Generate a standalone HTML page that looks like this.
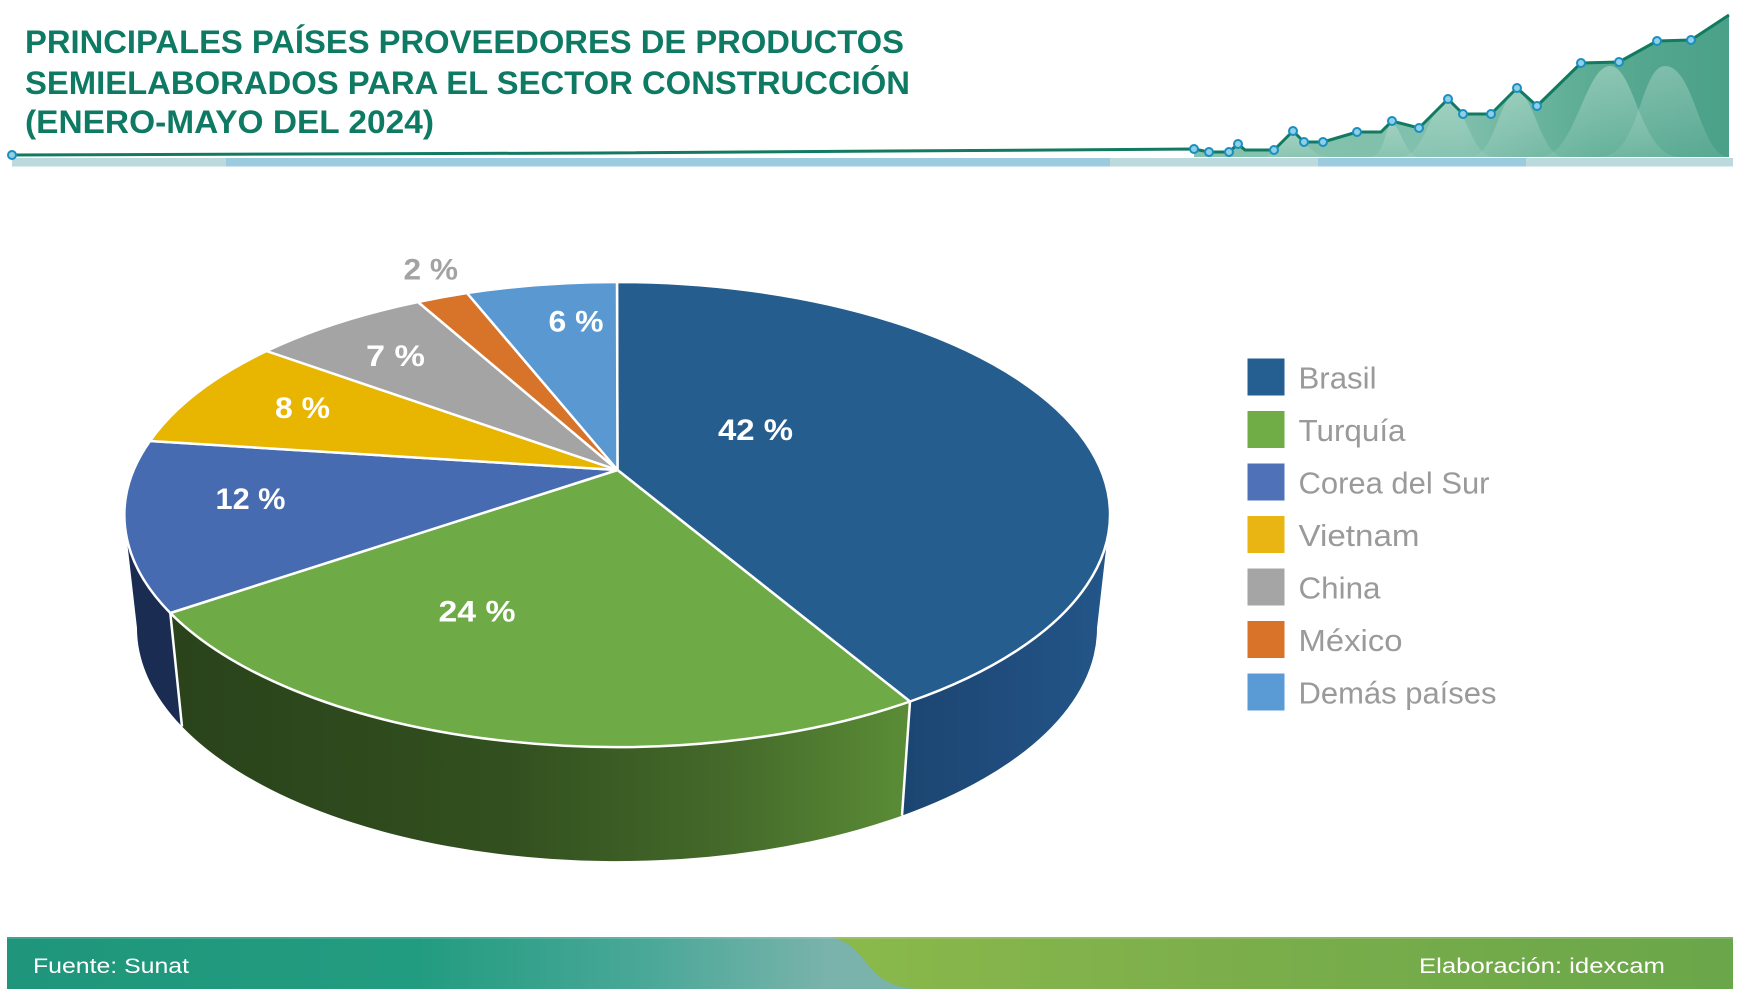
<!DOCTYPE html>
<html><head><meta charset="utf-8"><style>
html,body{margin:0;padding:0;background:#fff;}
svg{display:block;}
</style></head><body>
<svg width="1740" height="1000" viewBox="0 0 1740 1000" xmlns="http://www.w3.org/2000/svg">
<defs>
<linearGradient id="hdrFill" x1="1194" y1="0" x2="1729" y2="0" gradientUnits="userSpaceOnUse">
<stop offset="0" stop-color="#86c3ae"/><stop offset="0.5" stop-color="#7fbfab"/><stop offset="0.75" stop-color="#5aab92"/><stop offset="1" stop-color="#4aa088"/>
</linearGradient>
<linearGradient id="bell" x1="0" y1="0" x2="0" y2="1">
<stop offset="0" stop-color="#b8ddd0" stop-opacity="0.55"/><stop offset="1" stop-color="#b8ddd0" stop-opacity="0.15"/>
</linearGradient>
<linearGradient id="greenSide" x1="182" y1="0" x2="905" y2="0" gradientUnits="userSpaceOnUse">
<stop offset="0" stop-color="#2a431b"/><stop offset="0.45" stop-color="#32501f"/><stop offset="0.75" stop-color="#44692a"/><stop offset="1" stop-color="#5a8c36"/>
</linearGradient>
<linearGradient id="blueSide" x1="900" y1="0" x2="1110" y2="0" gradientUnits="userSpaceOnUse">
<stop offset="0" stop-color="#1c4571"/><stop offset="0.6" stop-color="#204e7f"/><stop offset="1" stop-color="#235689"/>
</linearGradient>
<linearGradient id="footL" x1="7" y1="0" x2="922" y2="0" gradientUnits="userSpaceOnUse">
<stop offset="0" stop-color="#1f967b"/><stop offset="0.45" stop-color="#229c80"/><stop offset="0.7" stop-color="#4aa898"/><stop offset="0.9" stop-color="#7ab3ab"/><stop offset="1" stop-color="#7ab3ab"/>
</linearGradient>
<linearGradient id="footR" x1="820" y1="0" x2="1733" y2="0" gradientUnits="userSpaceOnUse">
<stop offset="0" stop-color="#8bb94b"/><stop offset="0.4" stop-color="#7daf4b"/><stop offset="1" stop-color="#6aa64a"/>
</linearGradient>
</defs>

<rect x="0" y="0" width="1740" height="1000" fill="#fff"/>

<!-- Title -->
<g font-family="'Liberation Sans', sans-serif" font-weight="700" font-size="32" fill="#0f7a64">
<text x="25" y="53" textLength="879" lengthAdjust="spacingAndGlyphs">PRINCIPALES PAÍSES PROVEEDORES DE PRODUCTOS</text>
<text x="25" y="94" textLength="885" lengthAdjust="spacingAndGlyphs">SEMIELABORADOS PARA EL SECTOR CONSTRUCCIÓN</text>
<text x="25" y="133" textLength="409" lengthAdjust="spacingAndGlyphs">(ENERO-MAYO DEL 2024)</text>
</g>

<!-- Header band -->
<rect x="12" y="158" width="214" height="8.5" fill="#bcdadd"/>
<rect x="226" y="158" width="884" height="8.5" fill="#9ccbe0"/>
<rect x="1110" y="158" width="208" height="8.5" fill="#bcdadd"/>
<rect x="1318" y="158" width="208" height="8.5" fill="#9ccbe0"/>
<rect x="1526" y="158" width="207" height="8.5" fill="#bcdadd"/>

<!-- Header area chart -->
<polygon fill="url(#hdrFill)" points="1194,149 1209,152 1229,152 1238,144 1245,150 1274,150 1293,131 1304,142 1323,142 1357,132 1381,132 1392,121 1419,128 1448,99 1463,114 1491,114 1517,88 1537,106 1581,63 1619,62 1657,41 1691,40 1729,15 1729,157 1194,157"/>
<path d="M1400,157 C1425,157 1430,102 1448,102 C1466,102 1470,157 1495,157 Z" fill="url(#bell)"/>
<path d="M1470,157 C1495,157 1500,92 1517,92 C1534,92 1540,157 1565,157 Z" fill="url(#bell)"/>
<path d="M1540,157 C1575,157 1585,66 1610,66 C1635,66 1640,157 1680,157 Z" fill="url(#bell)"/>
<path d="M1600,157 C1640,157 1640,66 1665,66 C1695,66 1700,157 1729,157 Z" fill="url(#bell)" opacity="0.8"/>
<path d="M1260,157 C1280,157 1285,134 1293,134 C1301,134 1310,157 1330,157 Z" fill="url(#bell)"/>
<path d="M1370,157 C1385,157 1385,124 1392,124 C1400,124 1405,157 1420,157 Z" fill="url(#bell)"/>

<polyline fill="none" stroke="#117a60" stroke-width="3" stroke-linejoin="round" points="12,155 600,153 1194,149 1209,152 1229,152 1238,144 1245,150 1274,150 1293,131 1304,142 1323,142 1357,132 1381,132 1392,121 1419,128 1448,99 1463,114 1491,114 1517,88 1537,106 1581,63 1619,62 1657,41 1691,40 1729,15"/>
<g fill="#8fd0e6" stroke="#1a8fbf" stroke-width="2">
<circle cx="12" cy="155" r="4"/>
<circle cx="1194" cy="149" r="4"/><circle cx="1209" cy="152" r="4"/><circle cx="1229" cy="152" r="4"/><circle cx="1238" cy="144" r="4"/>
<circle cx="1274" cy="150" r="4"/><circle cx="1293" cy="131" r="4"/><circle cx="1304" cy="142" r="4"/><circle cx="1323" cy="142" r="4"/>
<circle cx="1357" cy="132" r="4"/><circle cx="1392" cy="121" r="4"/><circle cx="1419" cy="128" r="4"/><circle cx="1448" cy="99" r="4"/>
<circle cx="1463" cy="114" r="4"/><circle cx="1491" cy="114" r="4"/><circle cx="1517" cy="88" r="4"/><circle cx="1537" cy="106" r="4"/>
<circle cx="1581" cy="63" r="4"/><circle cx="1619" cy="62" r="4"/><circle cx="1657" cy="41" r="4"/><circle cx="1691" cy="40" r="4"/>
</g>

<!-- Pie sides -->
<path d="M1110,514.5 A493,232.5 0 0 1 910,701.5 L902,815.6 A480,233 0 0 0 1097,628 Z" fill="url(#blueSide)"/>
<path d="M910,701.5 A493,232.5 0 0 1 170.3,613 L182,726.5 A480,233 0 0 0 902,815.6 Z" fill="url(#greenSide)"/>
<path d="M170.3,613 A493,232.5 0 0 1 124,514.5 L137,628 A480,233 0 0 0 182,726.5 Z" fill="#1b2c52"/>
<g stroke="#fff" stroke-width="2.5" fill="none">
<line x1="910" y1="701.5" x2="902" y2="815.6"/>
<line x1="170.3" y1="613" x2="182" y2="726.5"/>
</g>

<!-- Pie top -->
<g stroke="#fff" stroke-width="2.5" stroke-linejoin="round">
<path d="M617.5,470 L617,282 A493,232.5 0 0 1 910,701.5 Z" fill="#265d8f"/>
<path d="M617.5,470 L910,701.5 A493,232.5 0 0 1 170.3,613 Z" fill="#6eab46"/>
<path d="M617.5,470 L170.3,613 A493,232.5 0 0 1 150,441 Z" fill="#466bb0"/>
<path d="M617.5,470 L150,441 A493,232.5 0 0 1 266.5,351 Z" fill="#e8b500"/>
<path d="M617.5,470 L266.5,351 A493,232.5 0 0 1 418,302 Z" fill="#a4a4a4"/>
<path d="M617.5,470 L418,302 A493,232.5 0 0 1 467,293 Z" fill="#d8732a"/>
<path d="M617.5,470 L467,293 A493,232.5 0 0 1 617,282 Z" fill="#5a98d2"/>
</g>

<!-- Pie labels -->
<g font-family="'Liberation Sans', sans-serif" font-weight="700" font-size="30" fill="#fff">
<text x="718" y="440" textLength="75" lengthAdjust="spacingAndGlyphs">42 %</text>
<text x="438.5" y="621.5" textLength="77" lengthAdjust="spacingAndGlyphs">24 %</text>
<text x="215.5" y="509" textLength="70" lengthAdjust="spacingAndGlyphs">12 %</text>
<text x="275" y="418" textLength="55" lengthAdjust="spacingAndGlyphs">8 %</text>
<text x="366" y="366" textLength="59" lengthAdjust="spacingAndGlyphs">7  %</text>
<text x="548.5" y="331.5" textLength="55" lengthAdjust="spacingAndGlyphs">6 %</text>
<text x="403.5" y="279.3" textLength="54.5" lengthAdjust="spacingAndGlyphs" fill="#a3a3a3">2 %</text>
</g>

<!-- Legend -->
<rect x="1247.5" y="358.5" width="37" height="37" fill="#255e91"/>
<rect x="1247.5" y="411" width="37" height="37" fill="#70ad47"/>
<rect x="1247.5" y="463.5" width="37" height="37" fill="#4e71b8"/>
<rect x="1247.5" y="516" width="37" height="37" fill="#e9b512"/>
<rect x="1247.5" y="568.5" width="37" height="37" fill="#a5a5a5"/>
<rect x="1247.5" y="621" width="37" height="37" fill="#d97329"/>
<rect x="1247.5" y="673.5" width="37" height="37" fill="#5b9bd5"/>
<g font-family="'Liberation Sans', sans-serif" font-size="31" fill="#9a9a9a">
<text x="1298.5" y="388.5" textLength="78" lengthAdjust="spacingAndGlyphs">Brasil</text>
<text x="1298.5" y="441" textLength="107" lengthAdjust="spacingAndGlyphs">Turquía</text>
<text x="1298.5" y="493.5" textLength="191" lengthAdjust="spacingAndGlyphs">Corea del Sur</text>
<text x="1298.5" y="546" textLength="121" lengthAdjust="spacingAndGlyphs">Vietnam</text>
<text x="1298.5" y="598.5" textLength="82" lengthAdjust="spacingAndGlyphs">China</text>
<text x="1298.5" y="651" textLength="104" lengthAdjust="spacingAndGlyphs">México</text>
<text x="1298.5" y="703.5" textLength="198" lengthAdjust="spacingAndGlyphs">Demás países</text>
</g>

<!-- Footer -->
<rect x="7" y="937" width="1726" height="52" fill="url(#footL)"/>
<path d="M822,937 L1733,937 L1733,989 L921,989 C895,989 880,980 868,965 C855,948 845,937 822,937 Z" fill="url(#footR)"/>
<rect x="7" y="937" width="1726" height="2" fill="#ffffff" opacity="0.15"/>
<g font-family="'Liberation Sans', sans-serif" font-size="21" fill="#fff">
<text x="33" y="973" textLength="156" lengthAdjust="spacingAndGlyphs">Fuente: Sunat</text>
<text x="1419" y="973" textLength="246" lengthAdjust="spacingAndGlyphs">Elaboración: idexcam</text>
</g>
</svg>
</body></html>
